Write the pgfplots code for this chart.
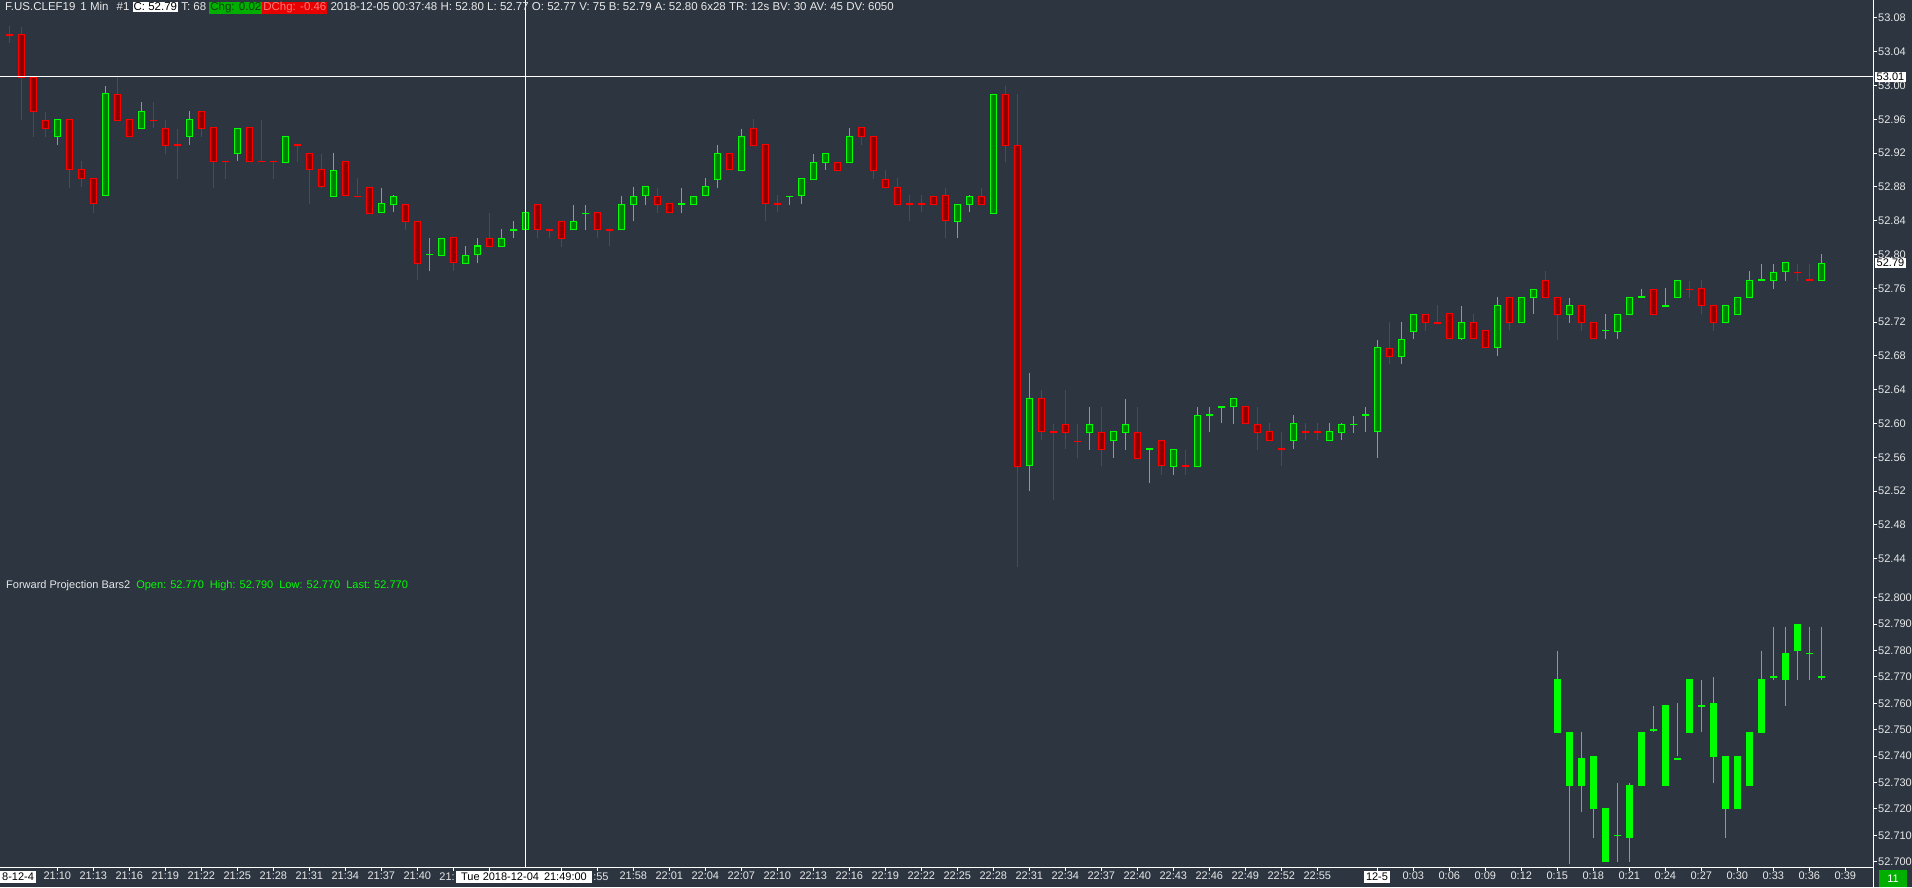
\documentclass[border=0pt]{standalone}
\usepackage{pgfplots}
\pgfplotsset{compat=1.18}
\usepackage{pgfplotstable}
\usepackage{fontspec}
\setmainfont{Liberation Sans}
\definecolor{bg}{RGB}{44,53,64}
\definecolor{gb}{RGB}{0,255,0}
\definecolor{gf}{RGB}{0,128,0}
\definecolor{rb}{RGB}{255,0,0}
\definecolor{rf}{RGB}{140,0,0}
\definecolor{txt}{RGB}{232,232,232}
\definecolor{chgG}{RGB}{0,175,0}
\definecolor{chgR}{RGB}{230,0,0}
\newcommand{\lab}{\fontsize{11}{13}\selectfont}
\newcommand{\hdr}{\fontsize{11.5}{13}\selectfont}

% top panel: red candles  (x = bar index, o h l c)
\pgfplotstableread{
x o h l c
0 53.06 53.07 53.05 53.06
1 53.06 53.07 52.96 53.01
2 53.01 53.01 52.94 52.97
3 52.96 52.97 52.94 52.95
5 52.96 52.96 52.88 52.90
6 52.90 52.91 52.88 52.89
7 52.89 52.89 52.85 52.86
9 52.99 53.01 52.96 52.96
10 52.96 52.96 52.94 52.94
12 52.96 52.98 52.95 52.96
13 52.95 52.96 52.92 52.93
14 52.93 52.95 52.89 52.93
16 52.97 52.97 52.94 52.95
17 52.95 52.95 52.88 52.91
18 52.91 52.91 52.89 52.91
20 52.95 52.95 52.91 52.91
21 52.91 52.96 52.91 52.91
22 52.91 52.91 52.89 52.91
24 52.93 52.93 52.91 52.93
25 52.92 52.92 52.86 52.90
26 52.90 52.92 52.88 52.88
28 52.91 52.91 52.87 52.87
29 52.87 52.89 52.87 52.87
30 52.88 52.88 52.85 52.85
33 52.86 52.86 52.83 52.84
34 52.84 52.84 52.77 52.79
37 52.82 52.82 52.78 52.79
40 52.82 52.85 52.81 52.81
44 52.86 52.86 52.82 52.83
45 52.83 52.83 52.82 52.83
46 52.84 52.84 52.81 52.82
49 52.85 52.85 52.82 52.83
50 52.83 52.83 52.81 52.83
54 52.87 52.88 52.85 52.86
55 52.86 52.86 52.85 52.85
60 52.92 52.92 52.90 52.90
62 52.95 52.96 52.93 52.93
63 52.93 52.93 52.84 52.86
64 52.86 52.87 52.85 52.86
69 52.91 52.91 52.90 52.90
71 52.95 52.95 52.93 52.94
72 52.94 52.94 52.89 52.90
73 52.89 52.90 52.88 52.88
74 52.88 52.89 52.86 52.86
75 52.86 52.87 52.84 52.86
76 52.86 52.87 52.85 52.86
77 52.87 52.87 52.86 52.86
78 52.87 52.88 52.82 52.84
81 52.87 52.88 52.86 52.86
83 52.99 53.00 52.91 52.93
84 52.93 52.99 52.43 52.55
86 52.63 52.64 52.58 52.59
87 52.59 52.60 52.51 52.59
88 52.60 52.64 52.57 52.59
89 52.58 52.60 52.56 52.58
91 52.59 52.62 52.55 52.57
94 52.59 52.62 52.56 52.56
96 52.58 52.58 52.54 52.55
98 52.55 52.57 52.54 52.55
103 52.62 52.62 52.60 52.60
104 52.60 52.62 52.57 52.59
105 52.59 52.60 52.58 52.58
106 52.57 52.59 52.55 52.57
108 52.59 52.60 52.58 52.59
109 52.59 52.60 52.58 52.59
115 52.69 52.72 52.67 52.68
118 52.73 52.73 52.71 52.72
119 52.72 52.74 52.72 52.72
120 52.73 52.73 52.70 52.70
122 52.72 52.73 52.70 52.70
123 52.71 52.71 52.69 52.69
125 52.75 52.75 52.71 52.72
128 52.77 52.78 52.75 52.75
129 52.75 52.75 52.70 52.73
131 52.74 52.74 52.71 52.72
132 52.72 52.72 52.70 52.70
137 52.76 52.76 52.73 52.73
140 52.76 52.77 52.75 52.76
141 52.76 52.77 52.73 52.74
142 52.74 52.74 52.71 52.72
149 52.78 52.79 52.77 52.78
150 52.77 52.79 52.77 52.77
}\redT

% top panel: green candles
\pgfplotstableread{
x o h l c
4 52.94 52.96 52.93 52.96
8 52.87 53.00 52.87 52.99
11 52.95 52.98 52.95 52.97
15 52.94 52.97 52.93 52.96
19 52.92 52.95 52.91 52.95
23 52.91 52.94 52.91 52.94
27 52.87 52.92 52.87 52.90
31 52.85 52.88 52.85 52.86
32 52.86 52.87 52.85 52.87
35 52.80 52.82 52.78 52.80
36 52.80 52.82 52.80 52.82
38 52.79 52.81 52.79 52.80
39 52.80 52.82 52.79 52.81
41 52.81 52.83 52.81 52.82
42 52.83 52.84 52.82 52.83
43 52.83 52.87 52.82 52.85
47 52.83 52.86 52.83 52.84
48 52.85 52.86 52.83 52.85
51 52.83 52.87 52.83 52.86
52 52.86 52.88 52.84 52.87
53 52.87 52.88 52.86 52.88
56 52.86 52.88 52.85 52.86
57 52.86 52.87 52.86 52.87
58 52.87 52.89 52.87 52.88
59 52.89 52.93 52.88 52.92
61 52.90 52.95 52.90 52.94
65 52.87 52.87 52.86 52.87
66 52.87 52.89 52.86 52.89
67 52.89 52.92 52.89 52.91
68 52.91 52.92 52.90 52.92
70 52.91 52.95 52.91 52.94
79 52.84 52.86 52.82 52.86
80 52.86 52.87 52.85 52.87
82 52.85 52.99 52.85 52.99
85 52.55 52.66 52.52 52.63
90 52.59 52.62 52.57 52.60
92 52.58 52.59 52.56 52.59
93 52.59 52.63 52.57 52.60
95 52.57 52.57 52.53 52.57
97 52.55 52.57 52.54 52.57
99 52.55 52.62 52.55 52.61
100 52.61 52.62 52.59 52.61
101 52.62 52.62 52.60 52.62
102 52.62 52.63 52.60 52.63
107 52.58 52.61 52.57 52.60
110 52.58 52.60 52.58 52.59
111 52.59 52.60 52.58 52.60
112 52.60 52.61 52.59 52.60
113 52.61 52.62 52.59 52.61
114 52.59 52.70 52.56 52.69
116 52.68 52.72 52.67 52.70
117 52.71 52.73 52.70 52.73
121 52.70 52.74 52.70 52.72
124 52.69 52.75 52.68 52.74
126 52.72 52.75 52.72 52.75
127 52.75 52.76 52.73 52.76
130 52.73 52.75 52.72 52.74
133 52.71 52.73 52.70 52.71
134 52.71 52.73 52.70 52.73
135 52.73 52.75 52.73 52.75
136 52.75 52.76 52.75 52.75
138 52.74 52.76 52.74 52.74
139 52.75 52.77 52.75 52.77
143 52.72 52.74 52.72 52.74
144 52.73 52.75 52.73 52.75
145 52.75 52.78 52.75 52.77
146 52.77 52.79 52.77 52.77
147 52.77 52.79 52.76 52.78
148 52.78 52.79 52.77 52.79
151 52.77 52.80 52.77 52.79
}\greenT

% bottom panel: forward projection bars (body top t, body bottom b, high h, low l)
\pgfplotstableread{
x t b h l
129 52.77 52.75 52.78 52.75
130 52.75 52.73 52.75 52.70
131 52.74 52.73 52.75 52.72
132 52.74 52.72 52.74 52.71
133 52.72 52.70 52.72 52.70
134 52.71 52.71 52.73 52.70
135 52.73 52.71 52.73 52.70
136 52.75 52.73 52.75 52.73
137 52.75 52.75 52.76 52.75
138 52.76 52.73 52.76 52.73
139 52.74 52.74 52.76 52.74
140 52.77 52.75 52.77 52.75
141 52.76 52.76 52.77 52.75
142 52.76 52.74 52.77 52.73
143 52.74 52.72 52.74 52.71
144 52.74 52.72 52.74 52.72
145 52.75 52.73 52.75 52.73
146 52.77 52.75 52.78 52.75
147 52.77 52.77 52.79 52.77
148 52.78 52.77 52.79 52.76
149 52.79 52.78 52.79 52.77
150 52.78 52.78 52.79 52.77
151 52.77 52.77 52.79 52.77
}\projT

\pgfplotsset{
  ebar/.style 2 args={draw=none, mark=none, forget plot,
    error bars/.cd, y dir=both, y explicit, error mark=none,
    error bar style={draw=#1, line width=#2, solid}},
  panel/.style={
    scale only axis, anchor=south west, width=1873pt,
    xmin=-0.775, xmax=155.308,
    axis line style={white, line width=1pt},
    tick style={white, line width=1pt},
    tick align=outside, major tick length=4pt, minor tick num=0,
    every tick label/.append style={font=\lab, color=txt},
    /pgf/number format/assume math mode=true,
    scaled y ticks=false, scaled x ticks=false,
    yticklabel style={anchor=west, inner sep=0pt, xshift=1pt},
  },
}

\begin{document}
\begin{tikzpicture}
\fill[bg] (0pt,0pt) rectangle (1912pt,887pt);

% ---------- top panel ----------
\begin{axis}[panel, at={(0pt,316pt)}, height=571pt,
  ymin=52.425385, ymax=53.10112,
  axis x line=none, axis y line*=right, xtick=\empty,
  ytick={52.44,52.48,52.52,52.56,52.60,52.64,52.68,52.72,52.76,52.80,52.84,52.88,52.92,52.96,53.00,53.04,53.08},
  yticklabel style={/pgf/number format/fixed, /pgf/number format/fixed zerofill, /pgf/number format/precision=2},
]
% wicks
\addplot[ebar={rb}{1pt}] table[x=x, y expr={(\thisrow{h}+\thisrow{l})/2}, y error expr={(\thisrow{h}-\thisrow{l})/2}] {\redT};
\addplot[ebar={gb}{1pt}] table[x=x, y expr={(\thisrow{h}+\thisrow{l})/2}, y error expr={(\thisrow{h}-\thisrow{l})/2}] {\greenT};
% body borders
\addplot[ebar={rb}{6.5pt}] table[x=x, y expr={(\thisrow{o}+\thisrow{c})/2}, y error expr={abs(\thisrow{o}-\thisrow{c})/2+0.0006}] {\redT};
\addplot[ebar={gb}{6.5pt}] table[x=x, y expr={(\thisrow{o}+\thisrow{c})/2}, y error expr={abs(\thisrow{o}-\thisrow{c})/2+0.0006}] {\greenT};
% body fills
\addplot[ebar={rf}{4.5pt}] table[x=x, y expr={(\thisrow{o}+\thisrow{c})/2}, y error expr={max(abs(\thisrow{o}-\thisrow{c})/2-0.0006,0)}] {\redT};
\addplot[ebar={gf}{4.5pt}] table[x=x, y expr={(\thisrow{o}+\thisrow{c})/2}, y error expr={max(abs(\thisrow{o}-\thisrow{c})/2-0.0006,0)}] {\greenT};
\end{axis}

% ---------- bottom panel ----------
\begin{axis}[panel, at={(0pt,20pt)}, height=296pt,
  ymin=52.697992, ymax=52.810114,
  axis x line*=bottom, axis y line*=right,
  ytick={52.70,52.71,52.72,52.73,52.74,52.75,52.76,52.77,52.78,52.79,52.80},
  yticklabel style={/pgf/number format/fixed, /pgf/number format/fixed zerofill, /pgf/number format/precision=3},
  xtick={4,7,10,13,16,19,22,25,28,31,34,37,40,46,49,52,55,58,61,64,67,70,73,76,79,82,85,88,91,94,97,100,103,106,109,114,117,120,123,126,129,132,135,138,141,144,147,150,153},
  xticklabels={21:10,21:13,21:16,21:19,21:22,21:25,21:28,21:31,21:34,21:37,21:40,{},{},{},{},21:58,22:01,22:04,22:07,22:10,22:13,22:16,22:19,22:22,22:25,22:28,22:31,22:34,22:37,22:40,22:43,22:46,22:49,22:52,22:55,{},0:03,0:06,0:09,0:12,0:15,0:18,0:21,0:24,0:27,0:30,0:33,0:36,0:39},
  xticklabel style={anchor=north, inner sep=0pt, yshift=-1pt},
]
\addplot[ebar={gb}{1pt}] table[x=x, y expr={(\thisrow{h}+\thisrow{l})/2}, y error expr={(\thisrow{h}-\thisrow{l})/2}] {\projT};
\addplot[ebar={gb}{7pt}] table[x=x, y expr={(\thisrow{t}+\thisrow{b})/2}, y error expr={(\thisrow{t}-\thisrow{b})/2+0.00019}] {\projT};
\end{axis}

% ---------- crosshair and labels ----------
\draw[white, line width=1pt] (525.3pt,20pt) -- (525.3pt,887pt);
\draw[white, line width=1pt] (0pt,810pt) -- (1873pt,810pt);
\draw[white, line width=1pt] (1873pt,0pt) -- (1873pt,887pt);

\node[anchor=west, inner sep=0pt, text=txt, font=\hdr] at (5pt,879pt) {%
\setlength{\fboxsep}{1pt}F.US.CLEF19\hspace{5pt}1 Min\hspace{8pt}\#1 \colorbox{white}{\textcolor{black}{C: 52.79}} T: 68 \colorbox{chgG}{\textcolor[RGB]{20,60,20}{Chg: 0.02}}\colorbox{chgR}{\textcolor[RGB]{255,120,120}{DChg: -0.46}} 2018-12-05 00:37:48 H: 52.80 L: 52.77 O: 52.77 V: 75 B: 52.79 A: 52.80 6x28 TR: 12s BV: 30 AV: 45 DV: 6050};

\node[anchor=west, inner sep=0pt, font=\lab] at (6pt,301pt) {\textcolor{txt}{Forward Projection Bars2}\hspace{6pt}\textcolor{gb}{Open: 52.770\hspace{6pt}High: 52.790\hspace{6pt}Low: 52.770\hspace{6pt}Last: 52.770}};

\node[anchor=west, fill=white, text=black, inner xsep=1.5pt, inner ysep=1pt, font=\lab] at (1875pt,810pt) {53.01};
\node[anchor=west, fill=white, text=black, inner xsep=1.5pt, inner ysep=1pt, font=\lab] at (1875pt,624pt) {52.79};

\node[anchor=west, fill=white, text=black, inner xsep=2pt, inner ysep=2pt, font=\lab] at (0pt,10pt) {8-12-4};
\node[fill=white, text=black, inner xsep=5pt, inner ysep=2pt, font=\lab] (tbox) at (524pt,10pt) {Tue 2018-12-04\hspace{5pt}21:49:00};
\node[anchor=base east, inner sep=0pt, text=txt, font=\lab] at ([xshift=-1pt]tbox.base west) {21:};
\node[anchor=base west, inner sep=0pt, text=txt, font=\lab] at ([xshift=1pt]tbox.base east) {:55};
\node[fill=white, text=black, inner xsep=2pt, inner ysep=2pt, font=\lab] at (1377pt,10pt) {12-5};
\node[fill=chgG, text=white, minimum width=28pt, minimum height=17pt, inner sep=0pt, font=\lab] at (1893pt,8.5pt) {11};

\pgfresetboundingbox
\useasboundingbox (0pt,0pt) rectangle (1912pt,887pt);
\end{tikzpicture}
\end{document}
